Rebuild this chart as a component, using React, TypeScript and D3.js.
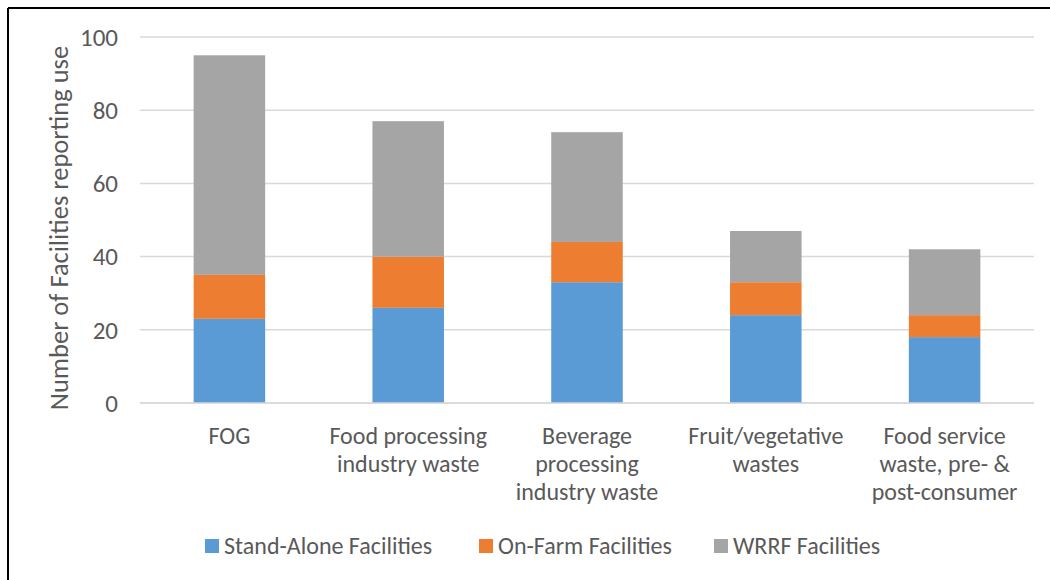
import React from "react";
import * as d3 from "d3";

const categories: string[][] = [
  ["FOG"],
  ["Food processing", "industry waste"],
  ["Beverage", "processing", "industry waste"],
  ["Fruit/vegetative", "wastes"],
  ["Food service", "waste, pre- &", "post-consumer"],
];
const standAlone = [23, 26, 33, 24, 18];
const onFarm = [12, 14, 11, 9, 6];
const wrrf = [60, 37, 30, 14, 18];
const seriesNames = ["Stand-Alone Facilities", "On-Farm Facilities", "WRRF Facilities"];
const seriesColors = ["#5B9BD5", "#ED7D31", "#A5A5A5"];
const yTicks = [0, 20, 40, 60, 80, 100];

const W = 1050;
const H = 580;
const FONT = "Carlito, Calibri, Lato, 'Open Sans', sans-serif";
const TXT = "#595959";

export default function App() {
  const left = 140, right = 1034, top = 37, bottom = 403;
  const keys = categories.map((_, i) => String(i));
  const x = d3.scaleBand<string>().domain(keys).range([left, right]).paddingInner(0.6).paddingOuter(0.3);
  const y = d3.scaleLinear().domain([0, 100]).range([bottom, top]);
  const rows = keys.map((k, i) => ({ key: k, s0: standAlone[i], s1: onFarm[i], s2: wrrf[i] }));
  const stack = d3.stack<any>().keys(["s0", "s1", "s2"])(rows);

  const legendX = [205, 479, 714];

  return (
    <svg width={W} height={H} style={{ position: "absolute", left: 0, top: 0 }} fontFamily={FONT}>
      <rect x={0} y={0} width={W} height={H} fill="#fff" />
      <line x1={8} y1={8} x2={W} y2={8} stroke="#000" strokeWidth={2} />
      <line x1={8} y1={8} x2={8} y2={H} stroke="#000" strokeWidth={2} />
      {yTicks.map((t) => (
        <g key={t}>
          <line x1={left} x2={right} y1={y(t)} y2={y(t)} stroke="#D9D9D9" strokeWidth={1.5} />
          <text x={118} y={y(t)} dy="0.35em" textAnchor="end" fontSize={25} fill={TXT}>{t}</text>
        </g>
      ))}
      {stack.map((layer, si) => (
        <g key={si} fill={seriesColors[si]}>
          {layer.map((d, i) => (
            <rect key={i} x={x(keys[i])} width={x.bandwidth()} y={y(d[1])} height={y(d[0]) - y(d[1])} />
          ))}
        </g>
      ))}
      <line x1={left} x2={right} y1={y(0)} y2={y(0)} stroke="#D9D9D9" strokeWidth={1.5} />
      {categories.map((lines, i) => (
        <text key={i} textAnchor="middle" fontSize={24} fill={TXT}>
          {lines.map((l, j) => (
            <tspan key={j} x={(x(keys[i]) as number) + x.bandwidth() / 2} y={444 + j * 28}>{l}</tspan>
          ))}
        </text>
      ))}
      <text transform={`translate(68,${(top + bottom) / 2 + 8}) rotate(-90)`} textAnchor="middle" fontSize={26.5} fill={TXT}>
        Number of Facilities reporting use
      </text>
      {seriesNames.map((n, i) => (
        <g key={n}>
          <rect x={legendX[i]} y={539} width={14} height={14} fill={seriesColors[i]} />
          <text x={legendX[i] + 19} y={546} dy="0.35em" fontSize={24} fill={TXT}>{n}</text>
        </g>
      ))}
    </svg>
  );
}
